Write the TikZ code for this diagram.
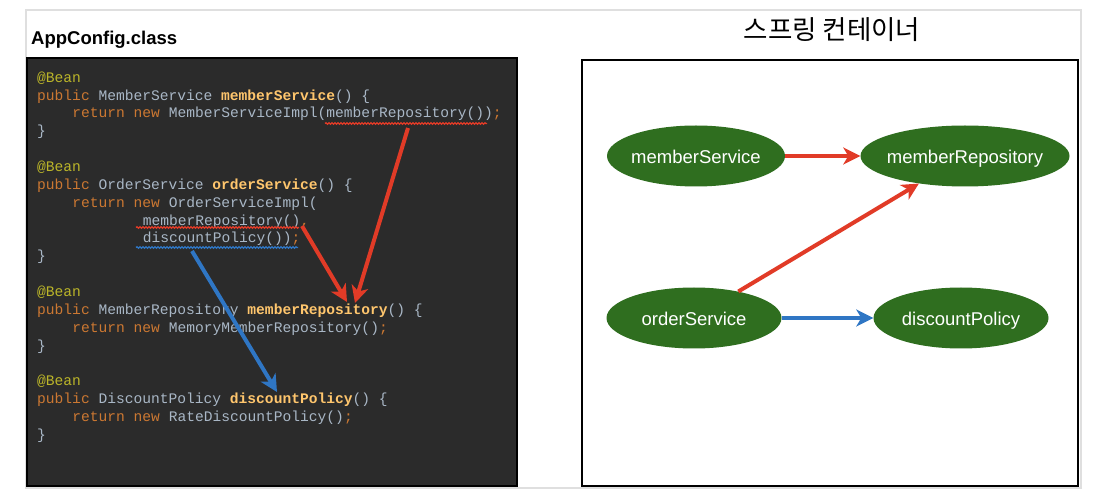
\documentclass[tikz,border=0pt]{standalone}
\usepackage{fontspec}
\setmainfont{Liberation Sans}
\setmonofont{Liberation Mono}
\newfontfamily\krfont{Noto Sans CJK KR}
\usetikzlibrary{arrows.meta,shapes.geometric,decorations.pathmorphing}
\definecolor{codebg}{HTML}{2B2B2B}
\definecolor{codetext}{HTML}{A9B7C6}
\definecolor{kwcol}{HTML}{CC7832}
\definecolor{fncol}{HTML}{FFC66D}
\definecolor{ancol}{HTML}{BBB529}
\definecolor{arrred}{HTML}{E13B27}
\definecolor{arrblue}{HTML}{2F76C4}
\definecolor{beangreen}{HTML}{2F6E1F}
\newcommand{\jkw}[1]{\textcolor{kwcol}{#1}}
\newcommand{\jfn}[1]{\textcolor{fncol}{\bfseries #1}}
\newcommand{\jan}[1]{\textcolor{ancol}{#1}}
\tikzset{
  codeline/.style={anchor=base west,inner sep=0pt,text=codetext,
    font=\ttfamily\fontsize{14.6}{17}\selectfont},
  bean/.style={ellipse,fill=beangreen,text=white,inner xsep=-6pt,
    text height=16pt,text depth=1pt,
    minimum height=61pt,font=\fontsize{18.5}{22}\selectfont},
  redarr/.style={arrred,line width=4pt,-{Stealth[length=17pt,width=17pt,inset=5pt]}},
  bluearr/.style={arrblue,line width=4pt,-{Stealth[length=17pt,width=17pt,inset=5pt]}},
  wavy/.style={line width=1.3pt,decorate,decoration={snake,amplitude=0.7pt,segment length=3pt}}
}
\begin{document}
\begin{tikzpicture}[x=1pt,y=-1pt]
  \useasboundingbox[fill=white] (0,0) rectangle (1116,502);
  \draw[gray!25,line width=1.2pt] (26,10) rectangle (1081,488);

  \node[anchor=base west,inner sep=0pt,font=\bfseries\fontsize{18.5}{22}\selectfont] (title) at (31,45) {AppConfig.class};
  \node[font=\krfont\fontsize{26.5}{30}\selectfont] (container) at (832,30) {스프링 컨테이너};

  \draw[fill=codebg,draw=black,line width=2pt] (27,58) rectangle (517,486);
  \draw[black,line width=2.5pt] (582,60) rectangle (1078,486);

  \node[codeline] (l0) at (37,82.3) {\jan{@Bean}};
  \node[codeline] (l1) at (37,100.2) {\jkw{public} MemberService \jfn{memberService}() \{};
  \node[codeline] (l2) at (72.2,118) {\jkw{return new} MemberServiceImpl(memberRepository())\jkw{;}};
  \node[codeline] (l3) at (37,135.9) {\}};
  \node[codeline] (l5) at (37,171.6) {\jan{@Bean}};
  \node[codeline] (l6) at (37,189.4) {\jkw{public} OrderService \jfn{orderService}() \{};
  \node[codeline] (l7) at (72.2,207.3) {\jkw{return new} OrderServiceImpl(};
  \node[codeline] (l8) at (142.6,225.1) {memberRepository()\jkw{,}};
  \node[codeline] (l9) at (142.6,243) {discountPolicy())\jkw{;}};
  \node[codeline] (l10) at (37,260.8) {\}};
  \node[codeline] (l12) at (37,296.5) {\jan{@Bean}};
  \node[codeline] (l13) at (37,314.4) {\jkw{public} MemberRepository \jfn{memberRepository}() \{};
  \node[codeline] (l14) at (72.2,332.2) {\jkw{return new} MemoryMemberRepository()\jkw{;}};
  \node[codeline] (l15) at (37,350.1) {\}};
  \node[codeline] (l17) at (37,385.8) {\jan{@Bean}};
  \node[codeline] (l18) at (37,403.6) {\jkw{public} DiscountPolicy \jfn{discountPolicy}() \{};
  \node[codeline] (l19) at (72.2,421.5) {\jkw{return new} RateDiscountPolicy()\jkw{;}};
  \node[codeline] (l20) at (37,439.3) {\}};

  \draw[arrred,wavy] (325,123.5) -- (487,123.5);
  \draw[arrred,wavy] (136,227.5) -- (299,227.5);
  \draw[arrblue,wavy] (136,247.5) -- (298,247.5);

  \coordinate (useRepoA) at (408,128);
  \coordinate (defRepoA) at (355,303);
  \coordinate (useRepoB) at (302,226);
  \coordinate (defRepoB) at (347,302);
  \coordinate (useDisc) at (192,251);
  \coordinate (defDisc) at (277,392);
  \draw[redarr] (useRepoA) -- (defRepoA);
  \draw[redarr] (useRepoB) -- (defRepoB);
  \draw[bluearr] (useDisc) -- (defDisc);

  \node[bean,minimum width=178pt] (memberService) at (696,156) {memberService};
  \node[bean,minimum width=209pt] (memberRepository) at (965,156) {memberRepository};
  \node[bean,minimum width=175pt] (orderService) at (694,318) {orderService};
  \node[bean,minimum width=175pt] (discountPolicy) at (961,318) {discountPolicy};

  \draw[redarr] (memberService) -- (memberRepository);
  \draw[redarr] (orderService) -- (memberRepository);
  \draw[bluearr] (orderService) -- (discountPolicy);
\end{tikzpicture}
\end{document}
